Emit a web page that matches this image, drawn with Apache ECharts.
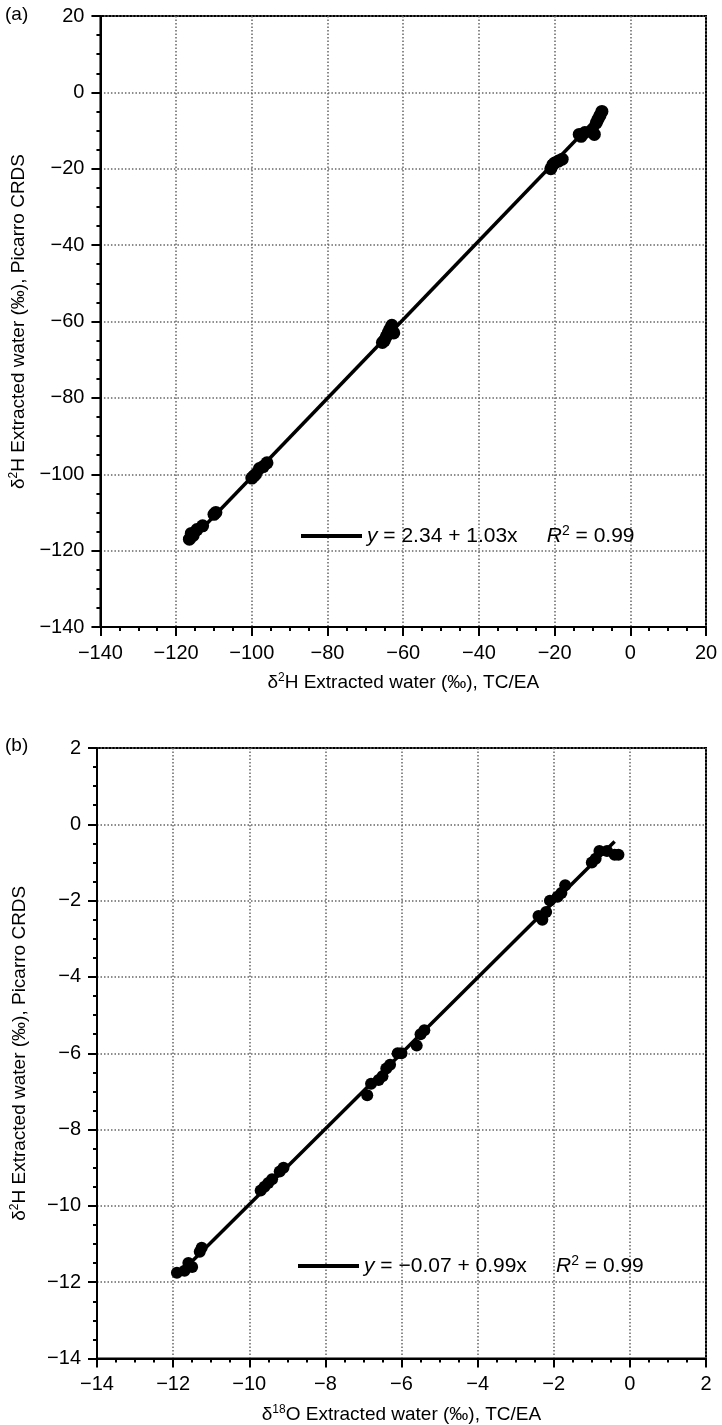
<!DOCTYPE html>
<html>
<head>
<meta charset="utf-8">
<script src="https://cdn.jsdelivr.net/npm/echarts@6/dist/echarts.min.js"></script>
<style>
html, body { margin: 0; padding: 0; background: #fff; }
#chart { width: 722px; height: 1425px; }
</style>
</head>
<body>
<div id="chart"></div>
<script>
// (a) δ2H: TC/EA vs Picarro CRDS
var a_tcea    = [-116.5, -116, -115.5, -114.5, -113, -110, -109.5, -100, -99.5, -99, -98, -97, -96, -65.5, -65, -64.5, -64, -63.5, -63, -62.5, -21, -20.5, -20, -19, -18, -13.5, -13, -12, -10, -9.5, -9, -8.5, -8, -7.5];
var a_picarro = [-117, -115.5, -116, -114.5, -113.5, -110.5, -110, -101, -100.5, -100, -98.5, -98, -97, -65.5, -65, -64, -63, -62, -61, -63, -20, -19, -18.5, -18, -17.5, -11, -11.5, -10.5, -10, -11, -8, -7, -6, -5];
// 回归线端点
var a_fit_x = [-117, -7];
var a_fit_y = [-118.2, -4.9];
var a_fit_text = '{i|y} = 2.34 + 1.03x     {i|R}{s|2} = 0.99';

// (b) δ18O: TC/EA vs Picarro CRDS
var b_tcea    = [-11.9, -11.7, -11.6, -11.5, -11.3, -11.25, -9.7, -9.6, -9.5, -9.4, -9.2, -9.1, -6.9, -6.8, -6.6, -6.5, -6.4, -6.3, -6.1, -6.0, -5.6, -5.5, -5.4, -2.4, -2.3, -2.2, -2.1, -1.9, -1.8, -1.7, -1.0, -0.9, -0.8, -0.6, -0.4, -0.3];
var b_picarro = [-11.75, -11.7, -11.5, -11.6, -11.2, -11.1, -9.6, -9.5, -9.4, -9.3, -9.1, -9.0, -7.1, -6.8, -6.7, -6.6, -6.4, -6.3, -6.0, -6.0, -5.8, -5.5, -5.4, -2.4, -2.5, -2.3, -2.0, -1.9, -1.8, -1.6, -1.0, -0.9, -0.7, -0.7, -0.8, -0.8];
var b_fit_x = [-11.7, -0.4];
var b_fit_y = [-11.65, -0.45];
var b_fit_text = '{i|y} = \u22120.07 + 0.99x     {i|R}{s|2} = 0.99';

var a_ticks = { min: -140, max: 20, interval: 20 };
var b_ticks = { min: -14, max: 2, interval: 2 };

var font = 'Liberation Sans, Arial, Helvetica, sans-serif';

function pairs(xs, ys){
	var out = [];
	for(var i = 0; i < xs.length; i++){
		out.push([xs[i], ys[i]]);
	}
	return out;
}

var rich_style = {
	t: { fontSize: 19, fontFamily: font, color: '#000', lineHeight: 22 },
	s: { fontSize: 12, fontFamily: font, color: '#000', lineHeight: 13, verticalAlign: 'top' }
};
var legend_rich = {
	i: { fontSize: 21, fontFamily: font, color: '#000', fontStyle: 'italic', lineHeight: 24 },
	s: { fontSize: 14, fontFamily: font, color: '#000', lineHeight: 15, verticalAlign: 'top' }
};

function make_axis(idx, ticks, position, name, name_gap){
	return {
		type: 'value',
		gridIndex: idx,
		position: position,
		min: ticks.min,
		max: ticks.max,
		interval: ticks.interval,
		name: name,
		nameLocation: 'middle',
		nameGap: name_gap,
		nameTextStyle: { fontSize: 19, fontFamily: font, color: '#000', rich: rich_style },
		axisLine: { show: true, onZero: false, lineStyle: { color: '#000', width: 2 } },
		axisTick: { show: true, inside: false, length: 9, lineStyle: { color: '#000', width: 2 } },
		minorTick: { show: true, splitNumber: 4, length: 4, lineStyle: { color: '#000', width: 2 } },
		axisLabel: {
			margin: 16,
			fontSize: 20,
			fontFamily: font,
			color: '#000',
			showMinLabel: true,
			showMaxLabel: true,
			formatter: function(val){
				return String(val).replace('-', '\u2212');
			}
		},
		splitLine: { show: true, lineStyle: { color: '#666', width: 1.5, type: [1.5, 2] } }
	};
}

var x_name_a = '{t|\u03b4}{s|2}{t|H Extracted water (\u2030), TC/EA}';
var x_name_b = '{t|\u03b4}{s|18}{t|O Extracted water (\u2030), TC/EA}';
var y_name = '{t|\u03b4}{s|2}{t|H Extracted water (\u2030), Picarro CRDS}';

var legend_common = {
	icon: 'rect',
	itemWidth: 61,
	itemHeight: 4,
	itemGap: 6,
	padding: 0,
	textStyle: { fontSize: 21, fontFamily: font, color: '#000', lineHeight: 24, rich: legend_rich }
};

var myChart = echarts.init(document.getElementById('chart'));
var option = {
	backgroundColor: '#fff',
	animation: false,
	title: [
		{ text: '(a)', left: 5, top: 5, padding: 0, textStyle: { fontSize: 19, fontWeight: 'normal', fontFamily: font, color: '#000' } },
		{ text: '(b)', left: 5, top: 736, padding: 0, textStyle: { fontSize: 19, fontWeight: 'normal', fontFamily: font, color: '#000' } }
	],
	grid: [
		{ left: 97, top: 16, width: 609, height: 611, show: true, borderColor: '#000', borderWidth: 2, backgroundColor: 'transparent' },
		{ left: 97, top: 748, width: 609, height: 611, show: true, borderColor: '#000', borderWidth: 2, backgroundColor: 'transparent' }
	],
	xAxis: [
		make_axis(0, a_ticks, 'bottom', x_name_a, 45),
		make_axis(1, b_ticks, 'bottom', x_name_b, 45)
	],
	yAxis: [
		make_axis(0, a_ticks, 'left', y_name, 66),
		make_axis(1, b_ticks, 'left', y_name, 66)
	],
	legend: [
		echarts.util.extend({
			data: ['fit_a'],
			left: 301,
			top: 524,
			formatter: function(){ return a_fit_text; }
		}, legend_common),
		echarts.util.extend({
			data: ['fit_b'],
			left: 298,
			top: 1254,
			formatter: function(){ return b_fit_text; }
		}, legend_common)
	],
	series: [
		{
			name: 'pts_a', type: 'scatter', xAxisIndex: 0, yAxisIndex: 0,
			symbol: 'circle', symbolSize: 13,
			itemStyle: { color: '#000', opacity: 1 },
			data: pairs(a_tcea, a_picarro)
		},
		{
			name: 'fit_a', type: 'line', xAxisIndex: 0, yAxisIndex: 0,
			symbol: 'none', itemStyle: { color: '#000' },
			lineStyle: { color: '#000', width: 3.5 },
			data: pairs(a_fit_x, a_fit_y)
		},
		{
			name: 'pts_b', type: 'scatter', xAxisIndex: 1, yAxisIndex: 1,
			symbol: 'circle', symbolSize: 12,
			itemStyle: { color: '#000', opacity: 1 },
			data: pairs(b_tcea, b_picarro)
		},
		{
			name: 'fit_b', type: 'line', xAxisIndex: 1, yAxisIndex: 1,
			symbol: 'none', itemStyle: { color: '#000' },
			lineStyle: { color: '#000', width: 3.5 },
			data: pairs(b_fit_x, b_fit_y)
		}
	]
};
myChart.setOption(option, true);
</script>
</body>
</html>
